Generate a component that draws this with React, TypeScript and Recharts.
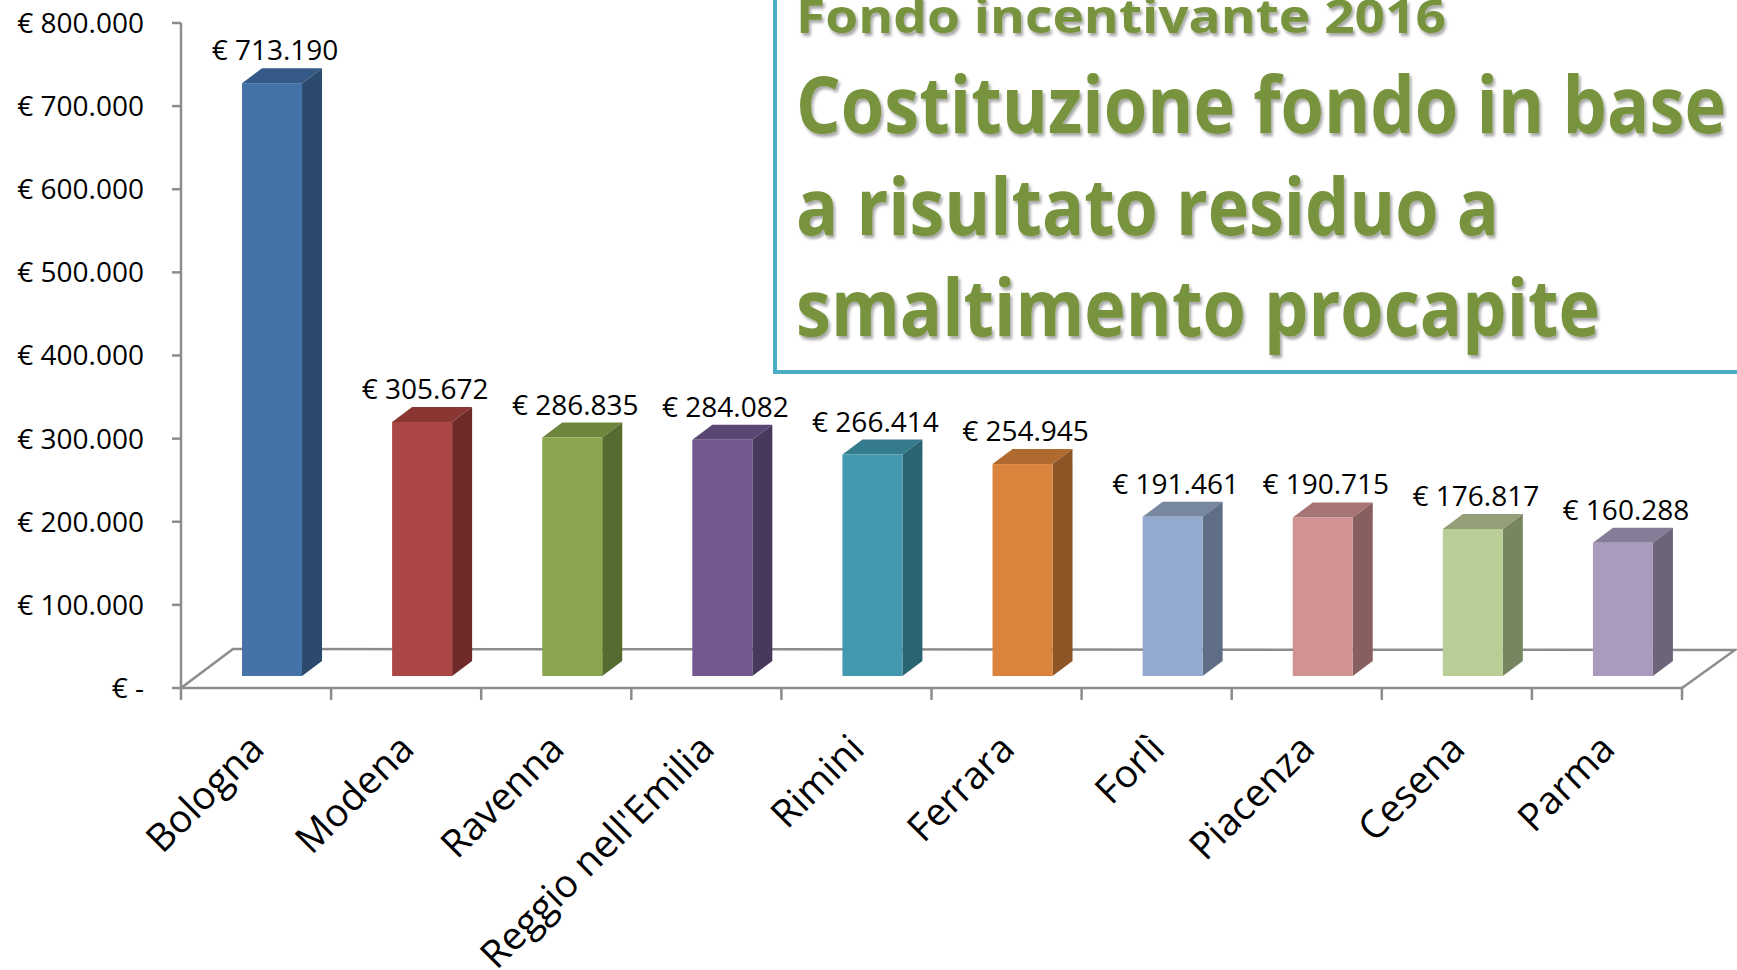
import React from "react";
import { Bar, BarChart, Cell, LabelList, XAxis, YAxis } from "recharts";

const CATEGORIES = [
  "Bologna",
  "Modena",
  "Ravenna",
  "Reggio nell'Emilia",
  "Rimini",
  "Ferrara",
  "Forlì",
  "Piacenza",
  "Cesena",
  "Parma",
];
const VALUES = [713190, 305672, 286835, 284082, 266414, 254945, 191461, 190715, 176817, 160288];
const Y_TICKS = [0, 100000, 200000, 300000, 400000, 500000, 600000, 700000, 800000];

const FRONT_COLORS = ["#4572a7", "#aa4643", "#89a54e", "#71588f", "#4198af", "#db843d", "#93a9cf", "#d19392", "#b9cd96", "#a99bbd"];
const TOP_COLORS = ["#365a87", "#8a3734", "#6e853d", "#5a4672", "#337b8d", "#b06a30", "#76879f", "#a57473", "#949f77", "#877c97"];
const SIDE_COLORS = ["#2c4a6e", "#6e2b29", "#566b30", "#48385c", "#2a6372", "#8e5527", "#5f6d86", "#875f5f", "#778561", "#6d647a"];

const TITLE_SMALL = "Fondo incentivante 2016";
const TITLE_LINES = ["Costituzione fondo in base", "a risultato residuo a", "smaltimento procapite"];

const W = 1737;
const H = 970;
const PLOT_LEFT = 181;
const PLOT_RIGHT = 1682;
const PLOT_TOP = 23;
const PLOT_BOTTOM = 688;
const AXIS = "#8c8c8c";
const FONT = "'Open Sans', 'Liberation Sans', sans-serif";

// 3d look: bars sit back on the floor, shifted right and lifted
const SHIFT_X = 16;
const LIFT = 12;
const DEPTH_X = 20;
const DEPTH_Y = 15;

const data = CATEGORIES.map((name, i) => ({ name, value: VALUES[i] }));

const euro = (v: number) =>
  v === 0 ? "€ -" : "€ " + String(v).replace(/\B(?=(\d{3})+(?!\d))/g, ".");

function Bar3D(props: any) {
  const { x, y, width, height, index } = props;
  if (width == null || height == null) return null;
  const fx = x + SHIFT_X;
  const fy = y - LIFT;
  const r = fx + width;
  const b = fy + height;
  return (
    <g>
      <polygon
        points={`${fx},${fy} ${fx + DEPTH_X},${fy - DEPTH_Y} ${r + DEPTH_X},${fy - DEPTH_Y} ${r},${fy}`}
        fill={TOP_COLORS[index]}
      />
      <polygon
        points={`${r},${fy} ${r + DEPTH_X},${fy - DEPTH_Y} ${r + DEPTH_X},${b - DEPTH_Y} ${r},${b}`}
        fill={SIDE_COLORS[index]}
      />
      <rect x={fx} y={fy} width={width} height={height} fill={FRONT_COLORS[index]} />
    </g>
  );
}

function BarLabel(props: any) {
  const { x, y, width, value } = props;
  return (
    <text
      x={x + SHIFT_X + width / 2 + 3}
      y={y - LIFT - DEPTH_Y - 8}
      textAnchor="middle"
      fontSize={28}
      fontFamily={FONT}
      fill="#000"
    >
      {euro(value)}
    </text>
  );
}

function CategoryTick(props: any) {
  const { x, payload } = props;
  const ax = x + 10;
  const ay = 751;
  return (
    <text
      x={ax}
      y={ay}
      textAnchor="end"
      transform={`rotate(-45 ${ax} ${ay})`}
      fontSize={38.5}
      fontFamily={FONT}
      fill="#000"
    >
      {payload.value}
    </text>
  );
}

export default function App() {
  const band = (PLOT_RIGHT - PLOT_LEFT) / CATEGORIES.length;
  const boundaries = Array.from({ length: CATEGORIES.length + 1 }, (_, i) => PLOT_LEFT + band * i);
  return (
    <div
      style={{
        position: "absolute",
        left: 0,
        top: 0,
        width: W,
        height: H,
        background: "#fff",
        overflow: "hidden",
      }}
    >
      {/* floor of the 3d plot, behind the bars */}
      <svg width={W} height={H} style={{ position: "absolute", left: 0, top: 0 }}>
        <polyline
          points={`${PLOT_LEFT},${PLOT_BOTTOM} 233,649 1735,650 ${PLOT_RIGHT},${PLOT_BOTTOM}`}
          fill="none"
          stroke={AXIS}
          strokeWidth={2.5}
        />
        {boundaries.map((bx) => (
          <line key={bx} x1={bx} x2={bx} y1={PLOT_BOTTOM} y2={PLOT_BOTTOM + 12} stroke={AXIS} strokeWidth={2.5} />
        ))}
      </svg>

      <div style={{ position: "absolute", left: 0, top: 0 }}>
        <BarChart
          width={W}
          height={H}
          data={data}
          margin={{ top: PLOT_TOP, right: W - PLOT_RIGHT, bottom: 22, left: 31 }}
          barCategoryGap="30%"
        >
          <XAxis
            dataKey="name"
            height={260}
            interval={0}
            tickLine={false}
            axisLine={{ stroke: AXIS, strokeWidth: 2.5 }}
            tick={<CategoryTick />}
          />
          <YAxis
            width={150}
            domain={[0, 800000]}
            ticks={Y_TICKS}
            interval={0}
            tickSize={9}
            tickMargin={28}
            tickFormatter={euro}
            axisLine={{ stroke: AXIS, strokeWidth: 2.5 }}
            tickLine={{ stroke: AXIS, strokeWidth: 2.5 }}
            tick={{ fontSize: 28, fill: "#000", fontFamily: FONT }}
          />
          <Bar dataKey="value" shape={<Bar3D />} isAnimationActive={false}>
            {data.map((d, i) => (
              <Cell key={d.name} fill={FRONT_COLORS[i]} />
            ))}
            <LabelList dataKey="value" content={<BarLabel />} />
          </Bar>
        </BarChart>
      </div>

      {/* title box */}
      <svg width={W} height={H} style={{ position: "absolute", left: 0, top: 0, pointerEvents: "none" }}>
        <defs>
          <filter id="tshadow" x="-5%" y="-20%" width="110%" height="150%">
            <feDropShadow dx={2} dy={3} stdDeviation={1.5} floodColor="#000" floodOpacity={0.35} />
          </filter>
        </defs>
        <rect x={775} y={-20} width={1000} height={392} fill="#fff" stroke="#4bacc6" strokeWidth={4} />
        <g fill="#77933c" fontFamily={FONT} fontWeight={700} filter="url(#tshadow)">
          <text x={796} y={33} fontSize={46} textLength={650} lengthAdjust="spacingAndGlyphs">
            {TITLE_SMALL}
          </text>
          <text x={796} y={133} fontSize={78} textLength={930} lengthAdjust="spacingAndGlyphs">
            {TITLE_LINES[0]}
          </text>
          <text x={796} y={235} fontSize={78} textLength={703} lengthAdjust="spacingAndGlyphs">
            {TITLE_LINES[1]}
          </text>
          <text x={796} y={336} fontSize={78} textLength={804} lengthAdjust="spacingAndGlyphs">
            {TITLE_LINES[2]}
          </text>
        </g>
      </svg>
    </div>
  );
}
